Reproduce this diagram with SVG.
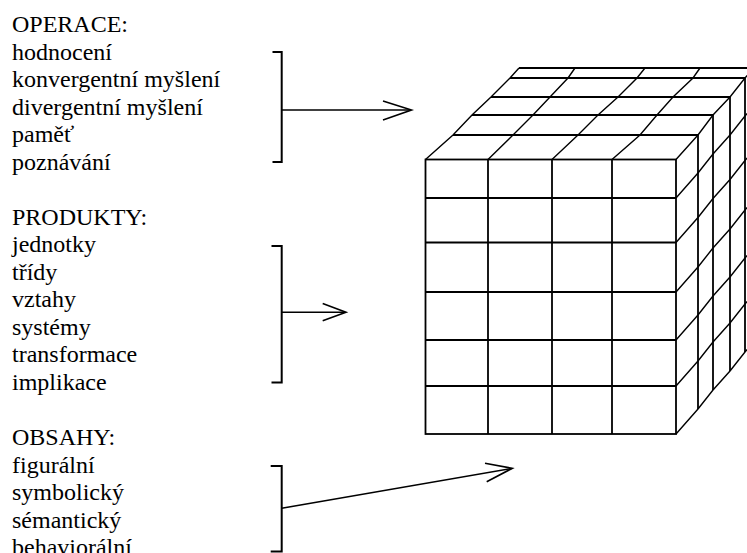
<svg xmlns="http://www.w3.org/2000/svg" width="747" height="553" viewBox="0 0 747 553">
<style>
  .t { font-family: "Liberation Serif", "Times New Roman", serif; font-size: 24px; fill: #000; }
  .br { fill: none; stroke: #000; stroke-width: 2; }
  .ar { fill: none; stroke: #000; stroke-width: 1.5; }
  .ah { fill: none; stroke: #000; stroke-width: 1.6; stroke-linejoin: miter; }
  .fr { fill: none; stroke: #000; stroke-width: 1.8; }
  .dg { fill: none; stroke: #000; stroke-width: 1.4; }
</style>
<rect x="0" y="0" width="747" height="553" fill="#fff"/>

<g id="operace">
  <text class="t" x="12" y="32">OPERACE:</text>
  <text class="t" x="12" y="59.5">hodnocení</text>
  <text class="t" x="12" y="87">konvergentní myšlení</text>
  <text class="t" x="12" y="114.6">divergentní myšlení</text>
  <text class="t" x="12" y="142.1">paměť</text>
  <text class="t" x="12" y="169.6">poznávání</text>
</g>

<g id="produkty">
  <text class="t" x="12" y="224.7">PRODUKTY:</text>
  <text class="t" x="12" y="252.2">jednotky</text>
  <text class="t" x="12" y="279.8">třídy</text>
  <text class="t" x="12" y="307.3">vztahy</text>
  <text class="t" x="12" y="334.8">systémy</text>
  <text class="t" x="12" y="362.4">transformace</text>
  <text class="t" x="12" y="389.9">implikace</text>
</g>

<g id="obsahy">
  <text class="t" x="12" y="445">OBSAHY:</text>
  <text class="t" x="12" y="472.5">figurální</text>
  <text class="t" x="12" y="500">symbolický</text>
  <text class="t" x="12" y="527.6">sémantický</text>
  <text class="t" x="12" y="555.1">behaviorální</text>
</g>

<g id="cube">
  <!-- front face -->
  <rect class="fr" x="425.5" y="159.5" width="250.5" height="274.5"/>
  <line class="fr" x1="488" y1="159.5" x2="488" y2="434"/>
  <line class="fr" x1="552" y1="159.5" x2="552" y2="434"/>
  <line class="fr" x1="612" y1="159.5" x2="612" y2="434"/>
  <line class="fr" x1="425.5" y1="198" x2="676" y2="198"/>
  <line class="fr" x1="425.5" y1="242.5" x2="676" y2="242.5"/>
  <line class="fr" x1="425.5" y1="292" x2="676" y2="292"/>
  <line class="fr" x1="425.5" y1="340" x2="676" y2="340"/>
  <line class="fr" x1="425.5" y1="386" x2="676" y2="386"/>
  <!-- top face -->
  <line class="fr" x1="453" y1="135" x2="698" y2="135"/>
  <line class="fr" x1="472" y1="115" x2="713" y2="115"/>
  <line class="fr" x1="491" y1="97" x2="730" y2="97"/>
  <line class="fr" x1="510" y1="78" x2="745" y2="78"/>
  <line class="fr" x1="519" y1="68" x2="760" y2="68"/>
  <polyline class="dg" points="425.5,159.5 453,135 472,115 491,97 510,78 519,68"/>
  <polyline class="dg" points="488,159.5 513,135 533,115 550,97 568,78 575,68"/>
  <polyline class="dg" points="552,159.5 578,135 598,115 618,97 637,78 645,68"/>
  <polyline class="dg" points="612,159.5 640,135 657,115 673,97 693,78 700,68"/>
  <polyline class="dg" points="676,159.5 698,135 713,115 730,97 745,78 754,68"/>
  <!-- right face -->
  <line class="fr" x1="698" y1="135" x2="698" y2="409"/>
  <line class="fr" x1="713" y1="115" x2="713" y2="390"/>
  <line class="fr" x1="730" y1="97" x2="730" y2="371"/>
  <line class="fr" x1="745" y1="78" x2="745" y2="352"/>
  <polyline class="dg" points="676,198 698,173 713,154 730,135 745,116 754,106"/>
  <polyline class="dg" points="676,242.5 698,217.5 713,198.5 730,179.5 745,160.5 754,150.5"/>
  <polyline class="dg" points="676,292 698,267 713,248 730,229 745,210 754,200"/>
  <polyline class="dg" points="676,340 698,315 713,296 730,277 745,258 754,248"/>
  <polyline class="dg" points="676,386 698,361 713,342 730,323 745,304 754,294"/>
  <polyline class="dg" points="676,434 698,409 713,390 730,371 745,352 754,342"/>
</g>

<g id="connectors">
  <polyline class="br" points="272.5,52 281.7,52 281.7,162 272.5,162"/>
  <line class="ar" x1="281.7" y1="110" x2="411" y2="110"/>
  <polyline class="ah" points="383,101 411.5,110 383,120"/>

  <polyline class="br" points="271.5,246 281.7,246 281.7,382.5 271.5,382.5"/>
  <line class="ar" x1="281.7" y1="312.3" x2="345" y2="312.3"/>
  <polyline class="ah" points="322.7,303.5 346,312.3 322.7,320.7"/>

  <polyline class="br" points="270.7,466 281.7,466 281.7,551.5 270.7,551.5"/>
  <line class="ar" x1="281.7" y1="508.3" x2="511.5" y2="468.4"/>
  <polyline class="ah" points="485,463.3 512.3,468.3 486.7,481.7"/>
</g>
</svg>
